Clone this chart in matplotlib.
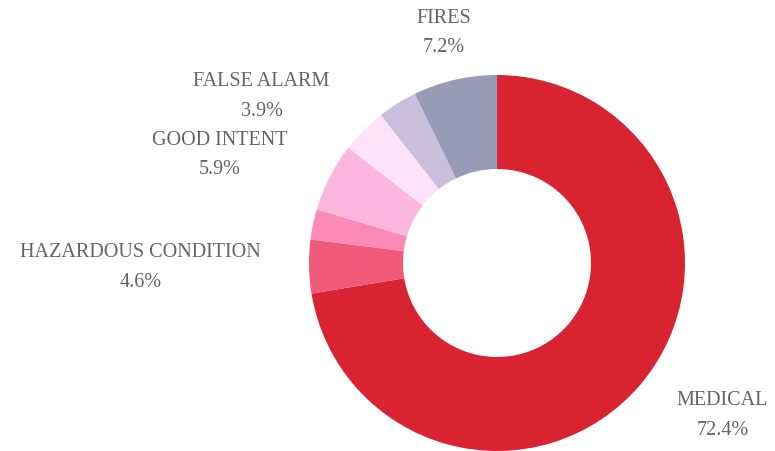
import numpy as np
import matplotlib
matplotlib.use("Agg")
import matplotlib.pyplot as plt

# Data (clockwise from 12 o'clock)
categories = ["MEDICAL", "HAZARDOUS CONDITION", "SERVICE CALL", "GOOD INTENT",
              "FALSE ALARM", "OTHER", "FIRES"]
values = [72.4, 4.6, 2.6, 5.9, 3.9, 3.4, 7.2]
colors = ["#DA2331", "#F0597A", "#FB8AB5", "#FDB6DF", "#FEE3FA", "#C9BFDD", "#979BB8"]
label_threshold = 3.5

W, H = 775, 451
fig = plt.figure(figsize=(W / 100, H / 100), dpi=100)
ax = fig.add_axes([0, 0, 1, 1])
ax.set_xlim(0, W)
ax.set_ylim(0, H)
ax.set_aspect("equal")
ax.axis("off")

cx, cy = 497, H - 263
R = 188
ax.pie(values, colors=colors, startangle=90, counterclock=False,
       center=(cx, cy), radius=R, frame=True,
       wedgeprops=dict(width=R * 0.5, linewidth=0, antialiased=True))
ax.set_xlim(0, W)
ax.set_ylim(0, H)
ax.axis("off")

total = sum(values)
cum = 0.0
for name, v in zip(categories, values):
    mid = (cum + v / 2) / total * 360.0  # degrees clockwise from top
    cum += v
    if v < label_threshold:
        continue
    th = np.deg2rad(mid)
    dx, dy = np.sin(th), np.cos(th)
    r = R * 1.255
    x, y = cx + dx * r, cy + dy * r
    if dx > 0.3:
        ha = "left"
    elif dx < -0.3:
        ha = "right"
    else:
        ha = "center"
    ax.text(x, y, f"{name}\n{v:.1f}%", ha=ha, va="center", multialignment="center",
            fontsize=14.5, family="Liberation Serif", color="#636363", linespacing=1.75)

fig.savefig("out.png", dpi=100)
